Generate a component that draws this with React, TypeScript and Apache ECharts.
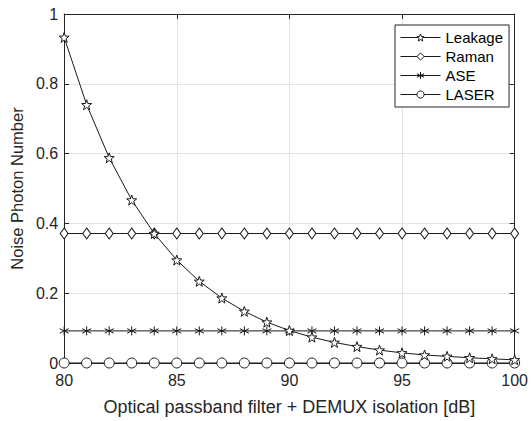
import React, { useEffect, useRef } from "react";
import * as echarts from "echarts";

const xValues = [80, 81, 82, 83, 84, 85, 86, 87, 88, 89, 90, 91, 92, 93, 94, 95, 96, 97, 98, 99, 100];
const leakage = [0.933, 0.74, 0.588, 0.467, 0.371, 0.295, 0.234, 0.186, 0.148, 0.117, 0.093, 0.074, 0.059, 0.047, 0.037, 0.029, 0.023, 0.019, 0.015, 0.012, 0.009];
const raman = [0.371, 0.371, 0.371, 0.371, 0.371, 0.371, 0.371, 0.371, 0.371, 0.371, 0.371, 0.371, 0.371, 0.371, 0.371, 0.371, 0.371, 0.371, 0.371, 0.371, 0.371];
const ase = [0.092, 0.092, 0.092, 0.092, 0.092, 0.092, 0.092, 0.092, 0.092, 0.092, 0.092, 0.092, 0.092, 0.092, 0.092, 0.092, 0.092, 0.092, 0.092, 0.092, 0.092];
const laser = [0, 0, 0, 0, 0, 0, 0, 0, 0, 0, 0, 0, 0, 0, 0, 0, 0, 0, 0, 0, 0];
const seriesNames = ["Leakage", "Raman", "ASE", "LASER"];

function starPath(): string {
  const pts: string[] = [];
  for (let i = 0; i < 10; i++) {
    const r = i % 2 === 0 ? 10 : 4;
    const a = -Math.PI / 2 + (i * Math.PI) / 5;
    pts.push((10 + r * Math.cos(a)).toFixed(2) + "," + (10 + r * Math.sin(a)).toFixed(2));
  }
  return "path://M" + pts.join("L") + "Z";
}
const STAR = starPath();
const ASTERISK = "path://M5,0L5,10M0.7,2.5L9.3,7.5M9.3,2.5L0.7,7.5";

const FONT = "'Liberation Sans', Arial, Helvetica, sans-serif";
const TXT = "#262626";

export default function App() {
  const ref = useRef<HTMLDivElement>(null);
  useEffect(() => {
    if (!ref.current) return;
    const chart = echarts.init(ref.current, null, { renderer: "svg" });
    const pair = (ys: number[]) => xValues.map((x, i) => [x, ys[i]]);
    const base = {
      type: "line",
      clip: false,
      lineStyle: { color: "#1a1a1a", width: 1 },
      itemStyle: { color: "#fff", borderColor: "#1a1a1a", borderWidth: 1 },
      emphasis: { disabled: true },
    };
    const tick = { show: true, inside: true, length: 5, lineStyle: { color: TXT } };
    const axisLine = { show: true, onZero: false, lineStyle: { color: TXT, width: 1 } };
    chart.setOption({
      animation: false,
      textStyle: { fontFamily: FONT },
      grid: { left: 62, right: 13, top: 14, bottom: 53, show: false },
      legend: {
        data: seriesNames,
        orient: "vertical",
        left: 395,
        top: 25,
        backgroundColor: "#fff",
        borderColor: TXT,
        borderWidth: 1,
        borderRadius: 0,
        padding: [5, 6, 5, 5],
        itemWidth: 40,
        itemHeight: 9,
        itemGap: 4,
        lineStyle: { width: 1 },
        itemStyle: { borderWidth: 1 },
        textStyle: { fontSize: 15, color: "#000", fontFamily: FONT },
      },
      xAxis: [
        {
          type: "value",
          min: 80,
          max: 100,
          interval: 5,
          name: "Optical passband filter + DEMUX isolation [dB]",
          nameLocation: "middle",
          nameGap: 35,
          nameTextStyle: { fontSize: 18, color: TXT, fontFamily: FONT },
          axisLine,
          axisTick: tick,
          axisLabel: { fontSize: 16, color: TXT, margin: 9, fontFamily: FONT },
          splitLine: { show: true, lineStyle: { color: "#e3e3e3", width: 1 } },
        },
        {
          type: "value",
          position: "top",
          min: 80,
          max: 100,
          interval: 5,
          axisLine,
          axisTick: tick,
          axisLabel: { show: false },
          splitLine: { show: false },
        },
      ],
      yAxis: [
        {
          type: "value",
          min: 0,
          max: 1,
          interval: 0.2,
          name: "Noise Photon Number",
          nameLocation: "middle",
          nameGap: 34,
          nameTextStyle: { fontSize: 16.5, color: TXT, fontFamily: FONT },
          axisLine,
          axisTick: tick,
          axisLabel: { fontSize: 16, color: TXT, margin: 6, fontFamily: FONT },
          splitLine: { show: true, lineStyle: { color: "#e3e3e3", width: 1 } },
        },
        {
          type: "value",
          position: "right",
          min: 0,
          max: 1,
          interval: 0.2,
          axisLine,
          axisTick: tick,
          axisLabel: { show: false },
          splitLine: { show: false },
        },
      ],
      series: [
        { ...base, name: "LASER", data: pair(laser), symbol: "circle", symbolSize: 10, z: 2 },
        { ...base, name: "ASE", data: pair(ase), symbol: ASTERISK, symbolSize: 9, z: 3 },
        { ...base, name: "Raman", data: pair(raman), symbol: "diamond", symbolSize: [8, 11], z: 4 },
        { ...base, name: "Leakage", data: pair(leakage), symbol: STAR, symbolSize: 10, z: 5 },
      ],
    });
    return () => chart.dispose();
  }, []);
  return <div ref={ref} style={{ width: 531, height: 421, position: "absolute", left: 0, top: 0 }} />;
}
